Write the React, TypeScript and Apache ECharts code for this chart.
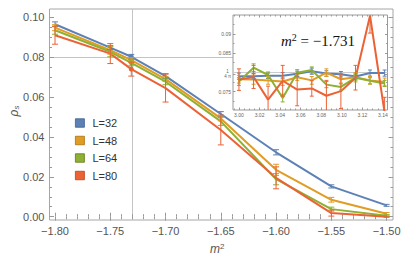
import React, { useEffect, useRef } from 'react';
import * as echarts from 'echarts';

// ---------- data ----------
const REF_X = -1.731;
const REF_Y = 1 / (4 * Math.PI);

const seriesNames = ['L=32', 'L=48', 'L=64', 'L=80'];
const seriesColors = ['#5E81B5', '#E19C24', '#8FB032', '#EB6235'];
const borderColors = ['#3E5F8F', '#A86F10', '#617A1C', '#B8401C'];

const mainX = [-1.80, -1.75, -1.731, -1.70, -1.65, -1.60, -1.55, -1.50];
const L32 = [0.0965, 0.0848, 0.0802, 0.0705, 0.0515, 0.0323, 0.0152, 0.0057];
const L32err = [0.0012, 0.0010, 0.0012, 0.0012, 0.0012, 0.0013, 0.0008, 0.0005];
const L48 = [0.0948, 0.0835, 0.0785, 0.0690, 0.0493, 0.0235, 0.0085, 0.0015];
const L48err = [0.0015, 0.0020, 0.0012, 0.0012, 0.0012, 0.0028, 0.0012, 0.0006];
const L64 = [0.0935, 0.0827, 0.0772, 0.0677, 0.0478, 0.0188, 0.0038, 0.0005];
const L64err = [0.0020, 0.0025, 0.0015, 0.0015, 0.0020, 0.0028, 0.0010, 0.0005];
const L80 = [0.0910, 0.0818, 0.0740, 0.0645, 0.0435, 0.0195, 0.0018, 0.0000];
const L80err = [0.0045, 0.0050, 0.0035, 0.0070, 0.0075, 0.0055, 0.0015, 0.0003];

const insetX = [3.0, 3.0142, 3.0283, 3.0425, 3.0566, 3.0708, 3.085, 3.0991, 3.1133, 3.1274, 3.1416];
const I32 = [0.0790, 0.0790, 0.0791, 0.0791, 0.0796, 0.0803, 0.0797, 0.0795, 0.0789, 0.0798, 0.0798];
const I32err = [0.0008, 0.0007, 0.0007, 0.0008, 0.0007, 0.0008, 0.0007, 0.0007, 0.0007, 0.0008, 0.0008];
const I48 = [0.0782, 0.0781, 0.0779, 0.0776, 0.0787, 0.0779, 0.0799, 0.0782, 0.0787, 0.0779, 0.0775];
const I48err = [0.0010, 0.0012, 0.0010, 0.0010, 0.0008, 0.0010, 0.0010, 0.0010, 0.0012, 0.0010, 0.0010];
const I64 = [0.0776, 0.0812, 0.0793, 0.0733, 0.0799, 0.0806, 0.0768, 0.0762, 0.0786, 0.0778, 0.0771];
const I64err = [0.0010, 0.0010, 0.0008, 0.0010, 0.0008, 0.0008, 0.0008, 0.0008, 0.0008, 0.0008, 0.0008];
const I80 = [0.0781, 0.0788, 0.0729, 0.0778, 0.0755, 0.0758, 0.0739, 0.0751, 0.0786, 0.0947, 0.0695];
const I80err = [0.0028, 0.0030, 0.0035, 0.0040, 0.0042, 0.0020, 0.0040, 0.0045, 0.0032, 0.0045, 0.0040];

const xMajor = [-1.80, -1.75, -1.70, -1.65, -1.60, -1.55, -1.50];
const yMajor = [0, 0.02, 0.04, 0.06, 0.08, 0.10];
const insetXMajor = [3.0, 3.02, 3.04, 3.06, 3.08, 3.1, 3.12, 3.14];
const insetYMajor = [0.075, REF_Y, 0.085, 0.09];
const insetYMinor = [0.0725, 0.0775, 0.0825, 0.0875, 0.0925];

// ---------- helpers ----------
function steps(a: number, b: number, step: number): number[] {
  const out: number[] = [];
  const n = Math.round((b - a) / step);
  for (let i = 0; i <= n; i++) out.push(+(a + i * step).toFixed(6));
  return out;
}
const notIn = (major: number[]) => (v: number) => !major.some((m) => Math.abs(m - v) < 1e-6);
const xMinor = steps(-1.8, -1.5, 0.01).filter(notIn(xMajor));
const yMinor = steps(0, 0.1, 0.005).filter(notIn(yMajor));
const insetXMinor = steps(2.995, 3.14, 0.005).filter(notIn(insetXMajor));

const FONT = 'Liberation Sans, Arial, sans-serif';
const SERIF = 'Liberation Serif, Times New Roman, serif';
const TICK = '#999999';
const LABEL = '#555555';

const M = { xmin: -1.805, xmax: -1.4942, ymin: -0.00165, ymax: 0.10416 };
const I = { xmin: 2.9942, xmax: 3.1444, ymin: 0.0702, ymax: 0.0949 };

function axis(kind: 'x' | 'y', grid: number, pos: string, min: number, max: number, ticks: number[], len: number, z: number, label?: any) {
  return {
    type: 'value',
    gridIndex: grid,
    position: pos,
    min,
    max,
    z,
    axisLine: { show: false },
    splitLine: { show: false },
    axisTick: { show: true, inside: true, length: len, customValues: ticks, lineStyle: { color: TICK, width: 1 } },
    axisLabel: label ? { show: true, customValues: ticks, ...label } : { show: false },
  };
}

function errRender(color: string, cap: number, width: number, lo: number, hi: number) {
  return (params: any, api: any) => {
    const x = api.value(0);
    const y = api.value(1);
    const e = api.value(2);
    const yt = Math.min(y + e, hi);
    const yb = Math.max(y - e, lo);
    const top = api.coord([x, yt]);
    const bot = api.coord([x, yb]);
    const st = { stroke: color, lineWidth: width };
    const children: any[] = [
      { type: 'line', shape: { x1: top[0], y1: top[1], x2: bot[0], y2: bot[1] }, style: st },
    ];
    if (y + e <= hi) children.push({ type: 'line', shape: { x1: top[0] - cap, y1: top[1], x2: top[0] + cap, y2: top[1] }, style: st });
    if (y - e >= lo) children.push({ type: 'line', shape: { x1: bot[0] - cap, y1: bot[1], x2: bot[0] + cap, y2: bot[1] }, style: st });
    return { type: 'group', children };
  };
}

const minusFmt = (v: number) => (v < 0 ? '\u2212' : '') + Math.abs(v).toFixed(2);

export default function App() {
  const ref = useRef<HTMLDivElement>(null);
  useEffect(() => {
    if (!ref.current) return;
    const chart = echarts.init(ref.current, undefined, { renderer: 'svg' });

    const mainVals = [L32, L48, L64, L80];
    const mainErrs = [L32err, L48err, L64err, L80err];
    const insVals = [I32, I48, I64, I80];
    const insErrs = [I32err, I48err, I64err, I80err];

    const series: any[] = [];
    mainVals.forEach((vals, i) => {
      const s: any = {
        type: 'line',
        name: seriesNames[i],
        xAxisIndex: 0,
        yAxisIndex: 0,
        showSymbol: true,
        symbol: 'none',
        data: mainX.map((x, j) => ({
          value: [x, vals[j]],
          symbol: x === REF_X ? 'circle' : 'none',
          symbolSize: 5,
        })),
        lineStyle: { color: seriesColors[i], width: 2 },
        itemStyle: { color: seriesColors[i] },
        z: 2,
      };
      if (i === 0) {
        s.markLine = {
          silent: true,
          symbol: 'none',
          z: 1,
          label: { show: false },
          lineStyle: { color: '#c4c4c4', width: 1, type: 'solid' },
          data: [{ xAxis: REF_X }, { yAxis: REF_Y }],
        };
      }
      series.push(s);
    });
    mainVals.forEach((vals, i) => {
      series.push({
        type: 'custom',
        name: seriesNames[i],
        xAxisIndex: 0,
        yAxisIndex: 0,
        z: 3,
        renderItem: errRender(seriesColors[i], 3, 1, M.ymin, M.ymax),
        encode: { x: 0, y: 1 },
        data: mainX.map((x, j) => [x, vals[j], mainErrs[i][j]]),
      });
    });
    insVals.forEach((vals, i) => {
      const s: any = {
        type: 'line',
        name: seriesNames[i],
        xAxisIndex: 4,
        yAxisIndex: 4,
        showSymbol: false,
        symbol: 'none',
        clip: true,
        data: insetX.map((x, j) => [x, vals[j]]),
        lineStyle: { color: seriesColors[i], width: 2 },
        itemStyle: { color: seriesColors[i] },
        z: 8,
      };
      if (i === 0) {
        s.markLine = {
          silent: true,
          symbol: 'none',
          z: 7,
          label: { show: false },
          lineStyle: { color: '#cccccc', width: 1, type: 'solid' },
          data: [{ yAxis: REF_Y }],
        };
      }
      series.push(s);
    });
    insVals.forEach((vals, i) => {
      series.push({
        type: 'custom',
        name: seriesNames[i],
        xAxisIndex: 4,
        yAxisIndex: 4,
        z: 9,
        clip: true,
        renderItem: errRender(seriesColors[i], 2, 1, I.ymin, I.ymax),
        encode: { x: 0, y: 1 },
        data: insetX.map((x, j) => [x, vals[j], insErrs[i][j]]),
      });
    });

    const mainLabel = { color: LABEL, fontSize: 11, fontFamily: FONT };
    const insetLabel = { color: '#666', fontSize: 5, fontFamily: FONT };

    chart.setOption({
      animation: false,
      backgroundColor: '#ffffff',
      grid: [
        { left: 49.5, top: 9, width: 343.5, height: 211, show: true, borderColor: '#a6a6a6', borderWidth: 1, backgroundColor: 'transparent', z: 0 },
        { left: 233, top: 15, width: 154.5, height: 95, show: true, borderColor: '#999999', borderWidth: 1, backgroundColor: '#ffffff', z: 5 },
      ],
      xAxis: [
        axis('x', 0, 'bottom', M.xmin, M.xmax, xMajor, 4, 1, { ...mainLabel, margin: 5, formatter: minusFmt }),
        axis('x', 0, 'bottom', M.xmin, M.xmax, xMinor, 2.5, 1),
        axis('x', 0, 'top', M.xmin, M.xmax, xMajor, 4, 1),
        axis('x', 0, 'top', M.xmin, M.xmax, xMinor, 2.5, 1),
        axis('x', 1, 'bottom', I.xmin, I.xmax, insetXMajor, 2.5, 6, { ...insetLabel, margin: 2, formatter: (v: number) => v.toFixed(2) }),
        axis('x', 1, 'bottom', I.xmin, I.xmax, insetXMinor, 1.5, 6),
        axis('x', 1, 'top', I.xmin, I.xmax, insetXMajor, 2.5, 6),
        axis('x', 1, 'top', I.xmin, I.xmax, insetXMinor, 1.5, 6),
      ],
      yAxis: [
        axis('y', 0, 'left', M.ymin, M.ymax, yMajor, 4.5, 1, { ...mainLabel, margin: 5, formatter: (v: number) => v.toFixed(2) }),
        axis('y', 0, 'left', M.ymin, M.ymax, yMinor, 2.5, 1),
        axis('y', 0, 'right', M.ymin, M.ymax, yMajor, 4.5, 1),
        axis('y', 0, 'right', M.ymin, M.ymax, yMinor, 2.5, 1),
        axis('y', 1, 'left', I.ymin, I.ymax, insetYMajor, 2.5, 6, {
          ...insetLabel,
          margin: 2,
          formatter: (v: number) =>
            Math.abs(v - REF_Y) < 1e-6 ? '{n|1}\n{d|4 \u03c0}' : Math.abs(v - 0.09) < 1e-9 ? '0.09' : v.toFixed(3),
          rich: {
            n: { fontSize: 4.5, lineHeight: 5, color: '#666', fontFamily: FONT, align: 'center' },
            d: { fontSize: 4.5, lineHeight: 5, color: '#666', fontFamily: FONT, align: 'center' },
          },
        }),
        axis('y', 1, 'left', I.ymin, I.ymax, insetYMinor, 1.5, 6),
        axis('y', 1, 'right', I.ymin, I.ymax, insetYMajor, 2.5, 6),
        axis('y', 1, 'right', I.ymin, I.ymax, insetYMinor, 1.5, 6),
      ],
      legend: {
        orient: 'vertical',
        left: 70,
        top: 112,
        icon: 'rect',
        itemWidth: 9,
        itemHeight: 8.5,
        itemGap: 5.5,
        textStyle: { color: '#333', fontSize: 11, fontFamily: FONT, lineHeight: 12, padding: [0, 0, 0, 3] },
        data: seriesNames.map((n, i) => ({
          name: n,
          itemStyle: { color: seriesColors[i], borderColor: borderColors[i], borderWidth: 0.8 },
        })),
      },
      graphic: [
        {
          type: 'text',
          x: 210,
          y: 249,
          z: 10,
          style: {
            text: '{m|m}{s|2}',
            verticalAlign: 'middle',
            rich: {
              m: { fontSize: 12, fontStyle: 'italic', fontFamily: FONT, fill: LABEL, lineHeight: 14 },
              s: { fontSize: 8, fontFamily: FONT, fill: LABEL, lineHeight: 8, verticalAlign: 'top' },
            },
          },
        },
        {
          type: 'text',
          x: 13.5,
          y: 111,
          rotation: Math.PI / 2,
          z: 10,
          style: {
            text: '{r|\u03c1}{s|s}',
            align: 'center',
            verticalAlign: 'middle',
            rich: {
              r: { fontSize: 12, fontStyle: 'italic', fontFamily: FONT, fill: LABEL, lineHeight: 14 },
              s: { fontSize: 8, fontStyle: 'italic', fontFamily: FONT, fill: LABEL, lineHeight: 8, verticalAlign: 'bottom' },
            },
          },
        },
        {
          type: 'text',
          x: 281,
          y: 41,
          z: 10,
          style: {
            text: '{m|m}{s|2}{t| = \u22121.731}',
            verticalAlign: 'middle',
            rich: {
              m: { fontSize: 15, fontStyle: 'italic', fontFamily: SERIF, fill: '#111', lineHeight: 17 },
              s: { fontSize: 10, fontFamily: SERIF, fill: '#111', lineHeight: 10, verticalAlign: 'top' },
              t: { fontSize: 15, fontFamily: SERIF, fill: '#111', lineHeight: 17 },
            },
          },
        },
      ],
      series,
    });
    return () => chart.dispose();
  }, []);
  return <div ref={ref} style={{ position: 'fixed', left: 0, top: 0, width: 415, height: 262 }} />;
}
